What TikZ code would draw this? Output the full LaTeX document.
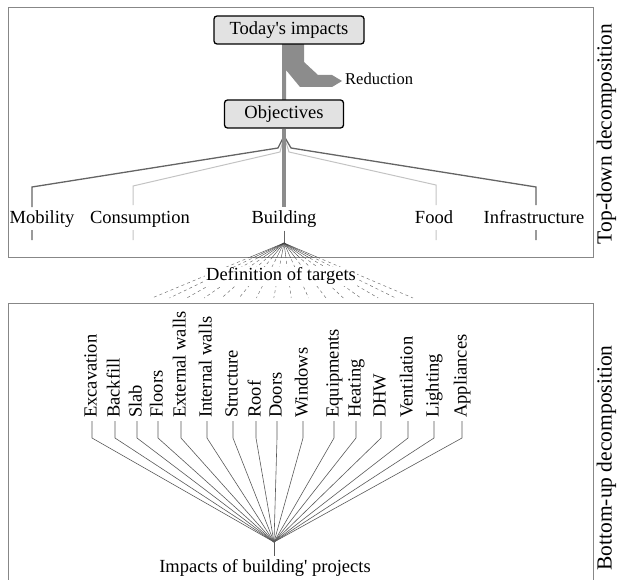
\documentclass[tikz,border=0pt]{standalone}
\usepackage{fontspec}
\setmainfont{Liberation Serif}
\usetikzlibrary{calc}

\definecolor{flowgray}{RGB}{140,140,140}
\definecolor{boxgray}{RGB}{226,226,226}
\definecolor{linedark}{RGB}{100,100,100}
\definecolor{linelight}{RGB}{195,195,195}
\definecolor{framegray}{RGB}{135,135,135}

\begin{document}
\begin{tikzpicture}[x=1pt,y=-1pt,
  every node/.style={font=\fontsize{18.5}{20}\selectfont,inner sep=3pt,text height=13pt,text depth=4pt},
  level/.style={draw=black,line width=1.3pt,rounded corners=3pt,fill=boxgray,minimum height=28pt},
  side/.style={rotate=90,font=\fontsize{21.5}{23}\selectfont},
  dark/.style={linedark,line width=1.3pt},
  light/.style={linelight,line width=1pt},
  frame/.style={framegray,line width=0.9pt},
  leader/.style={black!65,line width=0.6pt}]
\useasboundingbox (0,0) rectangle (618,580);

\draw[frame] (8,7) rectangle (593,257);
\draw[frame] (8,581) -- (8,303) -- (593,303) -- (593,581);

\fill[flowgray] (282,44) -- (304,44) -- (304,62) -- (318,75) -- (332,75) -- (342,81)
  -- (332,87) -- (300,87) -- (286,70) -- (286,100) -- (282,100) -- cycle;
\node[level,minimum width=150pt] (today) at (289,30) {Today\textquotesingle s impacts};
\node[level,minimum width=119pt] (obj) at (284,114) {Objectives};
\node[anchor=west,font=\fontsize{16.5}{18}\selectfont,text height=11pt,text depth=3.5pt] (red) at (342,81) {Reduction};

\node (mob) at (42,219) {Mobility};
\node (cons) at (140,219) {Consumption};
\node (bld) at (284,219) {Building};
\node (food) at (434,219) {Food};
\node (infra) at (534,219) {Infrastructure};

\coordinate (fork) at (284,136);
\draw[light] (fork) -- ++(-4,16) -- (133,186) -- ++(0,19) (133,230) -- ++(0,10);
\draw[light] (fork) -- ++(5,16) -- (436,185) -- ++(0,20) (436,230) -- ++(0,10);
\draw[dark] (fork) -- ++(-6,12) -- (32,187) -- ++(0,20) (32,230) -- ++(0,10);
\draw[dark] (fork) -- ++(7,12) -- (536,187) -- ++(0,18) (536,230) -- ++(0,10);
\draw[flowgray,line width=4pt] (obj.south) -- (bld.north);

\coordinate (tapex) at (284,243);
\draw[dark,line width=1pt] (bld.south) -- (tapex);
\begin{scope}
\clip (0,0) rectangle (618,257);
\foreach \i in {0,...,15}
  \draw[black!75,line width=0.4pt] (tapex) -- (152+17.4*\i,298);
\end{scope}
\begin{scope}
\clip (0,257) rectangle (618,302);
\foreach \i in {0,...,15}
  \draw[black!55,line width=0.5pt,dash pattern=on 3pt off 3pt] (tapex) -- (152+17.4*\i,298);
\end{scope}
\node[fill=white,inner sep=1pt] (def) at (281,276) {Definition of targets};

\coordinate (bapex) at (274,542);
\node (imp) at (265,568) {Impacts of building\textquotesingle{} projects};
\draw[leader,line width=0.9pt] (bapex) -- (bapex |- imp.north);
\foreach \x/\lab [count=\i] in {92/Excavation,115/Backfill,137/Slab,158/Floors,
    181/External walls,207/Internal walls,233/Structure,256/Roof,277/Doors,
    303/Windows,334/Equipments,356/Heating,381/DHW,408/Ventilation,434/Lighting,462/Appliances}
{
  \node[rotate=90,anchor=west] (el\i) at (\x,421) {\lab};
  \draw[leader] (el\i.west) -- ++(0,17) -- (bapex);
}

\node[side] (td) at (607,134) {Top-down decomposition};
\node[side] (bu) at (607,458) {Bottom-up decomposition};
\end{tikzpicture}
\end{document}
